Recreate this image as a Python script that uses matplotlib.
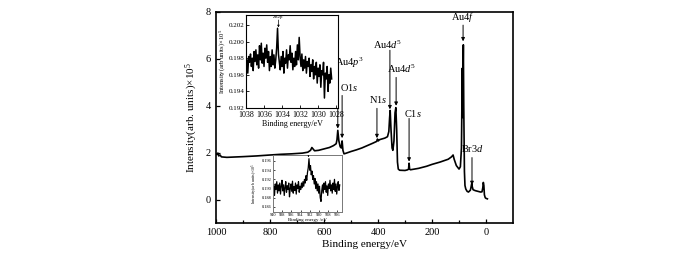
import numpy as np
import matplotlib
matplotlib.use("Agg")
import matplotlib.pyplot as plt

plt.rcParams['font.family'] = ['Liberation Serif', 'DejaVu Serif']
plt.rcParams['mathtext.fontset'] = 'custom'
plt.rcParams['mathtext.rm'] = 'Liberation Serif'
plt.rcParams['mathtext.it'] = 'Liberation Serif:italic'

# ---- main survey spectrum (binding energy eV, intensity x1e5) ----
energy = [1000, 997, 993, 990, 985, 980, 960, 940, 900, 850, 800, 760, 720, 680, 660,
          650, 645, 640, 635, 620, 600, 580, 565, 555, 552, 549, 545, 540, 536, 533,
          530, 526, 520, 500, 480, 460, 440, 420, 405, 402, 399, 395, 390, 375, 365,
          360, 357, 355, 352, 348, 345, 341, 337, 334, 331, 328, 325, 320, 300, 290,
          287, 285, 283, 280, 250, 220, 200, 170, 140, 128, 122, 118, 110, 100, 95,
          91, 88, 86.5, 85, 84, 82.5, 80, 78, 75, 70, 65, 58, 56, 53, 51,
          48, 40, 30, 20, 15, 12, 10, 8, 6, 3, 0, -5]
intensity = [1.95, 1.92, 1.98, 1.86, 1.90, 1.82, 1.80, 1.81, 1.83, 1.86, 1.90, 1.93, 1.95, 1.98, 2.02,
             2.10, 2.22, 2.15, 2.08, 2.10, 2.16, 2.22, 2.30, 2.38, 2.55, 2.95, 2.50, 2.25, 2.20, 2.50,
             2.10, 1.95, 1.97, 2.05, 2.12, 2.20, 2.30, 2.40, 2.48, 2.58, 2.50, 2.55, 2.57, 2.62, 2.68,
             2.90, 3.50, 3.80, 3.00, 2.20, 2.10, 2.50, 3.70, 3.92, 3.00, 1.60, 1.30, 1.25, 1.24, 1.27,
             1.30, 1.55, 1.30, 1.27, 1.33, 1.42, 1.50, 1.60, 1.72, 1.82, 1.90, 1.72, 1.45, 1.30, 1.40,
             2.20, 5.60, 3.50, 5.50, 6.60, 4.00, 1.20, 0.60, 0.45, 0.35, 0.32, 0.40, 0.50, 0.68, 0.55,
             0.42, 0.38, 0.35, 0.32, 0.33, 0.50, 0.73, 0.60, 0.20, 0.08, 0.05, 0.03]

# ---- inset 1 : Zn2p region ----
ins1_range = (1038.0, 1028.5)
ins1_values = [0.1968, 0.1978, 0.1962, 0.1982, 0.1975, 0.1985, 0.1970, 0.1980, 0.1965, 0.1988,
               0.1976, 0.1990, 0.1972, 0.1984, 0.1968, 0.1995, 0.1978, 0.1998, 0.1974, 0.1986,
               0.1970, 0.1992, 0.1980, 0.1996, 0.1975, 0.1988, 0.1965, 0.1982, 0.1970, 0.1990,
               0.1972, 0.1984, 0.1968, 0.1978, 0.1992, 0.2016, 0.1985, 0.1975, 0.1966, 0.1982,
               0.1970, 0.1988, 0.1962, 0.1980, 0.1974, 0.1990, 0.1968, 0.1984, 0.1978, 0.1995,
               0.1975, 0.1986, 0.1966, 0.1980, 0.1970, 0.1988, 0.1972, 0.1996, 0.1978, 0.2005,
               0.1982, 0.1970, 0.1985, 0.1965, 0.1978, 0.1968, 0.1982, 0.1962, 0.1976, 0.1970,
               0.1980, 0.1958, 0.1972, 0.1964, 0.1978, 0.1955, 0.1970, 0.1960, 0.1975, 0.1950,
               0.1968, 0.1958, 0.1972, 0.1945, 0.1965, 0.1960, 0.1975, 0.1932, 0.1962, 0.1955,
               0.1970, 0.1940, 0.1960, 0.1950, 0.1968, 0.1955]
ins1_xticks = [1038, 1036, 1034, 1032, 1030, 1028]
ins1_yticks = [0.192, 0.194, 0.196, 0.198, 0.200, 0.202]

# ---- inset 2 : Cu2p region ----
ins2_range = (940.0, 925.5)
ins2_values = [0.1892, 0.1905, 0.1885, 0.1910, 0.1898, 0.1915, 0.1890, 0.1908, 0.1895, 0.1912,
               0.1888, 0.1905, 0.1918, 0.1895, 0.1908, 0.1885, 0.1902, 0.1915, 0.1892, 0.1906,
               0.1898, 0.1912, 0.1882, 0.1900, 0.1910, 0.1894, 0.1916, 0.1890, 0.1904, 0.1896,
               0.1912, 0.1888, 0.1908, 0.1900, 0.1915, 0.1892, 0.1905, 0.1898, 0.1912, 0.1902,
               0.1915, 0.1905, 0.1920, 0.1912, 0.1928, 0.1918, 0.1935, 0.1945, 0.1965, 0.1940,
               0.1950, 0.1930, 0.1938, 0.1920, 0.1928, 0.1910, 0.1922, 0.1900, 0.1915, 0.1895,
               0.1910, 0.1890, 0.1905, 0.1880, 0.1872, 0.1895, 0.1908, 0.1890, 0.1912, 0.1898,
               0.1915, 0.1892, 0.1906, 0.1885, 0.1910, 0.1900, 0.1918, 0.1895, 0.1908, 0.1890,
               0.1912, 0.1898, 0.1920, 0.1894, 0.1910, 0.1888, 0.1905, 0.1915, 0.1896, 0.1908]
ins2_xticks = [940, 938, 936, 934, 932, 930, 928, 926]
ins2_yticks = [0.186, 0.188, 0.190, 0.192, 0.194, 0.196]

# peak labels: (label, arrow x, text y, arrow start y, arrow end y, text x)
labels = [
    (r'Au4$\mathit{f}$', 85, 7.78, 7.44, 6.75, 85),
    (r'Br3$\mathit{d}$', 52, 2.18, 1.79, 0.62, 52),
    (r'Au4$\mathit{p}^3$', 549, 5.85, 5.51, 3.03, 505),
    (r'O1$\mathit{s}$', 533, 4.79, 4.44, 2.62, 508),
    (r'N1$\mathit{s}$', 404, 4.27, 3.89, 2.62, 400),
    (r'Au4$\mathit{d}^5$', 356, 6.58, 6.37, 3.85, 363),
    (r'Au4$\mathit{d}^5$', 333, 5.56, 5.21, 4.0, 311),
    (r'C1$\mathit{s}$', 285, 3.68, 3.46, 1.62, 270),
]

fig = plt.figure(figsize=(7.0, 2.62), dpi=100)
ax = fig.add_axes([0.3086, 0.1489, 0.4243, 0.8053])
ax.plot(energy, intensity, color='black', lw=1.2)
ax.set_xlim(1000, -100)
ax.set_ylim(-1, 8)
ax.set_xticks([1000, 800, 600, 400, 200, 0])
ax.set_xticks([900, 700, 500, 300, 100], minor=True)
ax.set_yticks([0, 2, 4, 6, 8])
ax.tick_params(direction='in', labelsize=7.5, length=3, width=0.9)
ax.tick_params(which='minor', direction='in', length=2, width=0.9)
for s in ax.spines.values():
    s.set_linewidth(1.2)
ax.set_xlabel('Binding energy/eV', fontsize=8, labelpad=2)
ax.set_ylabel(r'Intensity(arb. units)$\times$10$^5$', fontsize=8, labelpad=4)

for txt, xa, yt, y0, y1, xt in labels:
    ax.text(xt, yt, txt, fontsize=7.5, ha='center', va='center', zorder=10)
    ax.annotate('', xy=(xa, y1), xytext=(xa, y0),
                arrowprops=dict(arrowstyle='-|>', color='black', lw=0.7,
                                mutation_scale=5, shrinkA=0, shrinkB=0))

# inset 1
a1 = fig.add_axes([0.3514, 0.5878, 0.1314, 0.355])
x1 = np.linspace(ins1_range[0], ins1_range[1], len(ins1_values))
a1.plot(x1, ins1_values, color='black', lw=1.1)
a1.set_xlim(1038, 1027.8)
a1.set_ylim(0.192, 0.2032)
a1.set_xticks(ins1_xticks)
a1.set_yticks(ins1_yticks)
a1.set_yticklabels(['%.3f' % v for v in ins1_yticks])
a1.tick_params(direction='in', length=2, width=0.6, pad=1)
a1.tick_params(axis='x', labelsize=5.8, pad=2.2)
a1.tick_params(axis='y', labelsize=5.0)
a1.set_xlabel('Binding energy/eV', fontsize=5.8, labelpad=1)
a1.set_ylabel(r'Intensity(arb units)$\times$10$^5$', fontsize=4.8, labelpad=1)
a1.text(1034.4, 0.2029, 'Zn2p', fontsize=3.5, ha='center', va='center')
a1.annotate('', xy=(1034.4, 0.2017), xytext=(1034.4, 0.2026),
            arrowprops=dict(arrowstyle='-|>', color='black', lw=0.5,
                            mutation_scale=3, shrinkA=0, shrinkB=0))
for s in a1.spines.values():
    s.set_linewidth(0.8)

# inset 2
a2 = fig.add_axes([0.39, 0.1908, 0.0986, 0.2176])
x2 = np.linspace(ins2_range[0], ins2_range[1], len(ins2_values))
a2.plot(x2, ins2_values, color='black', lw=0.9)
a2.set_xlim(940, 925)
a2.set_ylim(0.1849, 0.1973)
a2.set_xticks(ins2_xticks)
a2.set_yticks(ins2_yticks)
a2.set_yticklabels(['%.3f' % v for v in ins2_yticks])
a2.tick_params(direction='in', length=1.5, width=0.5, pad=1, labelsize=3.2)
a2.set_xlabel('Binding energy /eV', fontsize=3.5, labelpad=0.5)
a2.set_ylabel(r'Intensity(arb units)$\times$10$^5$', fontsize=3, labelpad=1)
a2.annotate('', xy=(932.3, 0.1968), xytext=(932.3, 0.1972),
            arrowprops=dict(arrowstyle='-|>', color='black', lw=0.4,
                            mutation_scale=2, shrinkA=0, shrinkB=0))
for s in a2.spines.values():
    s.set_linewidth(0.7)
    s.set_color('#777777')

fig.savefig('out.png', dpi=100)
